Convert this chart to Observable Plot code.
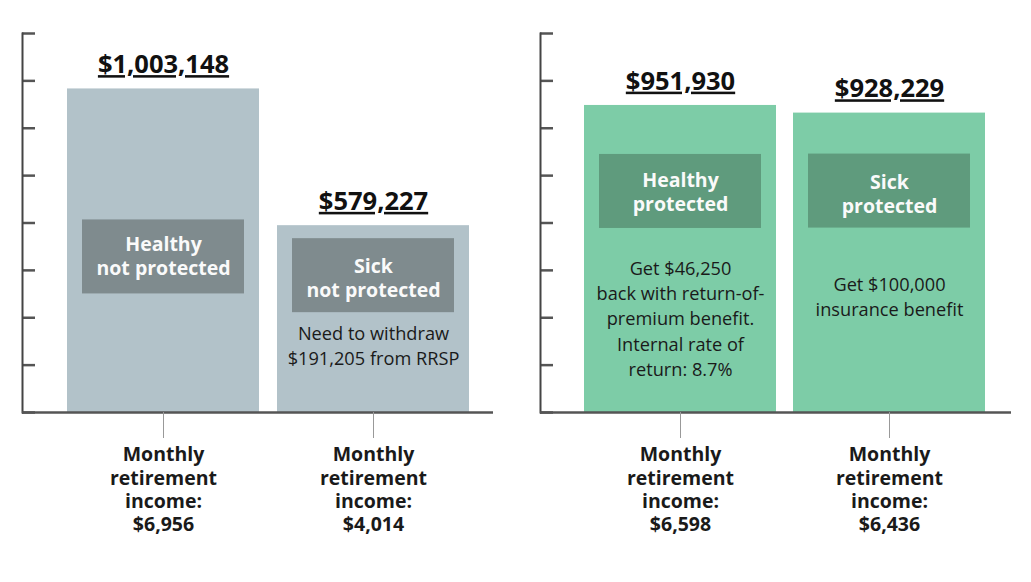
<!DOCTYPE html>
<html>
<head>
<meta charset="utf-8">
<script src="https://cdn.jsdelivr.net/npm/d3@7"></script>
<script src="https://cdn.jsdelivr.net/npm/@observablehq/plot@0.6"></script>
<style>
  html, body { margin: 0; padding: 0; background: #fff; }
  #wrap { display: flex; width: 1031px; height: 582px; font-family: "Open Sans", sans-serif; }
  #wrap svg { overflow: visible; }
</style>
</head>
<body>
<div id="wrap"></div>
<script>
// ---- data ----
const leftCategories = ["Healthy not protected", "Sick not protected"];
const leftValues = [1003148, 579227];
const leftValueLabels = ["$1,003,148", "$579,227"];
const leftBoxLabels = ["Healthy\nnot protected", "Sick\nnot protected"];
const leftNotes = ["", "Need to withdraw\n$191,205 from RRSP"];
const leftIncome = ["$6,956", "$4,014"];

const rightCategories = ["Healthy protected", "Sick protected"];
const rightValues = [951930, 928229];
const rightValueLabels = ["$951,930", "$928,229"];
const rightBoxLabels = ["Healthy\nprotected", "Sick\nprotected"];
const rightNotes = ["Get $46,250\nback with return-of-\npremium benefit.\nInternal rate of\nreturn: 8.7%", "Get $100,000\ninsurance benefit"];
const rightIncome = ["$6,598", "$6,436"];

const yTicks = [0, 146875, 293750, 440625, 587500, 734375, 881250, 1028125, 1175000];
const yDomain = [0, 1175000];

// ---- layout / style (not data) ----
const panels = [
  {
    categories: leftCategories, values: leftValues, valueLabels: leftValueLabels,
    boxLabels: leftBoxLabels, notes: leftNotes, income: leftIncome,
    width: 516, marginLeft: 22, marginRight: 23,
    paddingInner: 0.0853, paddingOuter: 0.1588, align: 0.657,
    barFill: "#b2c2c9", boxFill: "#7f8b8e",
    offsets: [ {box: 131, text: 166, note: 0}, {box: 13, text: 52, note: 119} ]
  },
  {
    categories: rightCategories, values: rightValues, valueLabels: rightValueLabels,
    boxLabels: rightBoxLabels, notes: rightNotes, income: rightIncome,
    width: 515, marginLeft: 24, marginRight: 20,
    paddingInner: 0.079, paddingOuter: 0.166, align: 0.638,
    barFill: "#7dcca7", boxFill: "#5f9b7d",
    offsets: [ {box: 49, text: 85.5, note: 212}, {box: 41, text: 80.5, note: 182} ]
  }
];

const wrap = document.getElementById("wrap");

for (const p of panels) {
  const rows = p.categories.map((c, i) => ({
    category: c, value: p.values[i], valueLabel: p.valueLabels[i],
    box: p.boxLabels[i], note: p.notes[i], income: p.income[i]
  }));
  const incomeOf = new Map(rows.map(r => [r.category, "Monthly\nretirement\nincome:\n" + r.income]));

  const perBar = rows.flatMap((r, i) => {
    const o = p.offsets[i];
    const m = [
      Plot.barY([r], {x: "category", y1: "value", y2: "value", fill: p.boxFill,
        insetLeft: 15, insetRight: 15, insetTop: o.box, insetBottom: -(o.box + 74)}),
      Plot.text([r], {x: "category", y: "value", text: "box", dy: o.text, fill: "#fafafa",
        fontSize: 19.5, fontWeight: "bold", lineHeight: 1.24, lineAnchor: "middle"})
    ];
    if (r.note) {
      m.push(Plot.text([r], {x: "category", y: "value", text: "note", dy: o.note, fill: "#1a1a1a",
        fontSize: 18.2, lineHeight: 1.38, lineAnchor: "middle"}));
    }
    return m;
  });

  const chart = Plot.plot({
    width: p.width,
    height: 582,
    marginTop: 33,
    marginBottom: 170,
    marginLeft: p.marginLeft,
    marginRight: p.marginRight,
    style: {fontFamily: "Open Sans", background: "transparent", color: "#1a1a1a"},
    x: {domain: p.categories, paddingInner: p.paddingInner, paddingOuter: p.paddingOuter, align: p.align, axis: null},
    y: {domain: yDomain, axis: null},
    marks: [
      Plot.barY(rows, {x: "category", y: "value", fill: p.barFill}),
      ...perBar,
      Plot.text(rows, {x: "category", y: "value", text: "valueLabel", dy: -24, fill: "#111",
        fontSize: 25.5, fontWeight: "bold", lineAnchor: "middle"}),
      Plot.axisY({ticks: yTicks, tickSize: 13, dx: 13, tickFormat: () => "", stroke: "#555", strokeWidth: 2.5, label: null}),
      Plot.frame({anchor: "left", stroke: "#444", strokeWidth: 2}),
      Plot.ruleY([0], {stroke: "#555", strokeWidth: 2.5}),
      Plot.axisX({tickSize: 26, tickPadding: 6, stroke: "#999", strokeWidth: 1, fontSize: 19.5, fontWeight: "bold",
        lineHeight: 1.2, fill: "#1a1a1a", tickFormat: d => incomeOf.get(d), label: null})
    ]
  });
  // underline the value labels
  const labelSet = new Set(p.valueLabels);
  d3.select(chart).selectAll("text")
    .filter(function() { return labelSet.has(this.textContent); })
    .style("text-decoration", "underline")
    .style("text-decoration-thickness", "2px")
    .style("text-underline-offset", "3px");
  wrap.appendChild(chart);
}
</script>
</body>
</html>
